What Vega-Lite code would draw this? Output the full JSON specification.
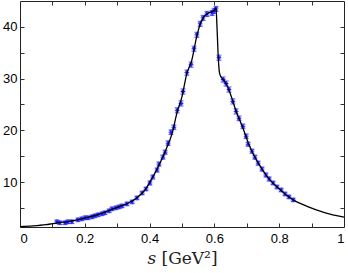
{
  "$schema": "https://vega.github.io/schema/vega-lite/v6.json",
  "width": 324,
  "height": 226,
  "autosize": {"type": "none"},
  "padding": {"left": 20, "top": 1, "right": 4, "bottom": 46},
  "background": "white",
  "config": {
    "view": {"stroke": "#222", "strokeWidth": 1},
    "axis": {"labelFont": "Liberation Sans", "labelFontSize": 13, "labelColor": "#000", "tickColor": "#333", "domain": false, "grid": false, "tickSize": 4}
  },
  "datasets": {
    "curve": [
      {"s": 0, "v": 1.35}, {"s": 0.04, "v": 1.5}, {"s": 0.08, "v": 1.75}, {"s": 0.1, "v": 1.95},
      {"s": 0.12, "v": 2.15}, {"s": 0.145, "v": 2.3}, {"s": 0.2, "v": 3.0}, {"s": 0.25, "v": 3.9},
      {"s": 0.3, "v": 5.1}, {"s": 0.33, "v": 5.8}, {"s": 0.36, "v": 6.9}, {"s": 0.386, "v": 8.5},
      {"s": 0.41, "v": 11.0}, {"s": 0.43, "v": 13.4}, {"s": 0.45, "v": 16.2}, {"s": 0.47, "v": 19.5},
      {"s": 0.485, "v": 23.5}, {"s": 0.5, "v": 26.5}, {"s": 0.515, "v": 31.0}, {"s": 0.53, "v": 33.5},
      {"s": 0.545, "v": 38.0}, {"s": 0.556, "v": 40.5}, {"s": 0.565, "v": 41.7}, {"s": 0.577, "v": 42.5},
      {"s": 0.59, "v": 42.9}, {"s": 0.6, "v": 43.2}, {"s": 0.605, "v": 43.7}, {"s": 0.608, "v": 40.0},
      {"s": 0.612, "v": 34.0}, {"s": 0.616, "v": 31.0}, {"s": 0.622, "v": 30.2}, {"s": 0.63, "v": 29.6},
      {"s": 0.638, "v": 28.8}, {"s": 0.645, "v": 27.8}, {"s": 0.657, "v": 25.6}, {"s": 0.667, "v": 23.7},
      {"s": 0.68, "v": 21.7}, {"s": 0.69, "v": 20.1}, {"s": 0.7, "v": 18.3}, {"s": 0.716, "v": 15.9},
      {"s": 0.735, "v": 13.7}, {"s": 0.76, "v": 11.3}, {"s": 0.78, "v": 9.85}, {"s": 0.8, "v": 8.7},
      {"s": 0.82, "v": 7.6}, {"s": 0.845, "v": 6.5}, {"s": 0.886, "v": 5.3}, {"s": 0.94, "v": 4.1},
      {"s": 1.0, "v": 3.2}
    ],
    "pts": [
      {"s": 0.114, "v": 2.31, "e": 0.35}, {"s": 0.123, "v": 2.12, "e": 0.35}, {"s": 0.139, "v": 2.12, "e": 0.35},
      {"s": 0.148, "v": 2.31, "e": 0.35}, {"s": 0.160, "v": 2.31, "e": 0.35}, {"s": 0.179, "v": 2.69, "e": 0.35},
      {"s": 0.191, "v": 2.88, "e": 0.35}, {"s": 0.201, "v": 3.08, "e": 0.35}, {"s": 0.210, "v": 3.08, "e": 0.35},
      {"s": 0.222, "v": 3.27, "e": 0.35}, {"s": 0.231, "v": 3.46, "e": 0.35}, {"s": 0.241, "v": 3.65, "e": 0.35},
      {"s": 0.253, "v": 3.85, "e": 0.35}, {"s": 0.262, "v": 4.04, "e": 0.35}, {"s": 0.275, "v": 4.42, "e": 0.35},
      {"s": 0.284, "v": 4.81, "e": 0.35}, {"s": 0.296, "v": 5.00, "e": 0.35}, {"s": 0.306, "v": 5.19, "e": 0.35},
      {"s": 0.315, "v": 5.38, "e": 0.35}, {"s": 0.330, "v": 5.77, "e": 0.35}, {"s": 0.346, "v": 6.15, "e": 0.35},
      {"s": 0.361, "v": 6.92, "e": 0.35}, {"s": 0.377, "v": 7.88, "e": 0.35}, {"s": 0.389, "v": 8.65, "e": 0.35},
      {"s": 0.401, "v": 9.81, "e": 0.4}, {"s": 0.410, "v": 10.96, "e": 0.4}, {"s": 0.423, "v": 12.31, "e": 0.4},
      {"s": 0.429, "v": 13.46, "e": 0.4}, {"s": 0.441, "v": 14.81, "e": 0.4}, {"s": 0.448, "v": 15.77, "e": 0.4},
      {"s": 0.457, "v": 17.50, "e": 0.45}, {"s": 0.466, "v": 19.62, "e": 0.45}, {"s": 0.475, "v": 20.58, "e": 0.45},
      {"s": 0.485, "v": 23.85, "e": 0.5}, {"s": 0.497, "v": 25.19, "e": 0.5}, {"s": 0.503, "v": 27.50, "e": 0.5},
      {"s": 0.515, "v": 31.15, "e": 0.5}, {"s": 0.528, "v": 32.69, "e": 0.5}, {"s": 0.537, "v": 35.77, "e": 0.5},
      {"s": 0.546, "v": 38.46, "e": 0.5}, {"s": 0.556, "v": 40.58, "e": 0.5}, {"s": 0.565, "v": 41.73, "e": 0.5},
      {"s": 0.577, "v": 42.50, "e": 0.5}, {"s": 0.593, "v": 42.69, "e": 0.5}, {"s": 0.599, "v": 43.08, "e": 0.5},
      {"s": 0.605, "v": 43.46, "e": 0.5}, {"s": 0.614, "v": 34.04, "e": 0.5}, {"s": 0.627, "v": 29.81, "e": 0.5},
      {"s": 0.636, "v": 29.04, "e": 0.5}, {"s": 0.645, "v": 27.88, "e": 0.5}, {"s": 0.657, "v": 25.58, "e": 0.5},
      {"s": 0.667, "v": 23.65, "e": 0.5}, {"s": 0.676, "v": 22.31, "e": 0.45}, {"s": 0.688, "v": 20.77, "e": 0.45},
      {"s": 0.698, "v": 18.85, "e": 0.45}, {"s": 0.704, "v": 17.31, "e": 0.4}, {"s": 0.716, "v": 15.96, "e": 0.4},
      {"s": 0.725, "v": 14.81, "e": 0.4}, {"s": 0.735, "v": 13.65, "e": 0.4}, {"s": 0.747, "v": 12.50, "e": 0.4},
      {"s": 0.759, "v": 11.35, "e": 0.4}, {"s": 0.769, "v": 10.58, "e": 0.4}, {"s": 0.781, "v": 9.81, "e": 0.35},
      {"s": 0.793, "v": 9.04, "e": 0.35}, {"s": 0.806, "v": 8.46, "e": 0.35}, {"s": 0.818, "v": 7.69, "e": 0.35},
      {"s": 0.830, "v": 7.12, "e": 0.35}, {"s": 0.843, "v": 6.54, "e": 0.35}
    ]
  },
  "layer": [
    {
      "data": {"name": "pts"},
      "mark": {"type": "errorbar", "ticks": true, "color": "#1a1aff", "thickness": 1},
      "encoding": {
        "x": {"field": "s", "type": "quantitative", "scale": {"domain": [0, 1]},
          "axis": {"orient": "bottom", "labels": false, "title": null, "offset": -4, "values": [0.1, 0.2, 0.3, 0.4, 0.5, 0.6, 0.7, 0.8, 0.9]}},
        "y": {"field": "v", "type": "quantitative", "scale": {"domain": [1.3, 45]},
          "axis": {"orient": "left", "labels": false, "title": null, "offset": -4, "values": [5, 10, 15, 20, 25, 30, 35, 40]}},
        "yError": {"field": "e"}
      }
    },
    {
      "data": {"name": "pts"},
      "mark": {"type": "point", "shape": "M-1,0L1,0M0,-1L0,1M-0.7,-0.7L0.7,0.7M-0.7,0.7L0.7,-0.7", "filled": false, "stroke": "#1a1aff", "strokeWidth": 1, "size": 22, "opacity": 1},
      "encoding": {
        "x": {"field": "s", "type": "quantitative", "scale": {"domain": [0, 1]},
          "axis": {"orient": "top", "labels": false, "title": null, "offset": -4, "values": [0.1, 0.2, 0.3, 0.4, 0.5, 0.6, 0.7, 0.8, 0.9]}},
        "y": {"field": "v", "type": "quantitative", "scale": {"domain": [1.3, 45]},
          "axis": {"orient": "right", "labels": false, "title": null, "offset": -4, "values": [5, 10, 15, 20, 25, 30, 35, 40]}}
      }
    },
    {
      "data": {"name": "curve"},
      "mark": {"type": "line", "color": "#000", "strokeWidth": 1.3, "interpolate": "monotone"},
      "encoding": {
        "x": {"field": "s", "type": "quantitative", "scale": {"domain": [0, 1]},
          "axis": {"orient": "bottom", "ticks": false, "values": [0, 0.2, 0.4, 0.6, 0.8, 1],
            "labelExpr": "format(datum.value, '~g')",
            "labelPadding": 5, "title": "𝑠  [GeV²]", "titleFont": "DejaVu Serif", "titleFontSize": 17, "titleFontWeight": "normal", "titleColor": "#222", "titlePadding": 5}},
        "y": {"field": "v", "type": "quantitative", "scale": {"domain": [1.3, 45]},
          "axis": {"orient": "left", "ticks": false, "values": [10, 20, 30, 40], "offset": 0,
            "labelAlign": "right", "labelPadding": 3, "title": null}}
      }
    }
  ],
  "resolve": {"axis": {"x": "independent", "y": "independent"}}
}
